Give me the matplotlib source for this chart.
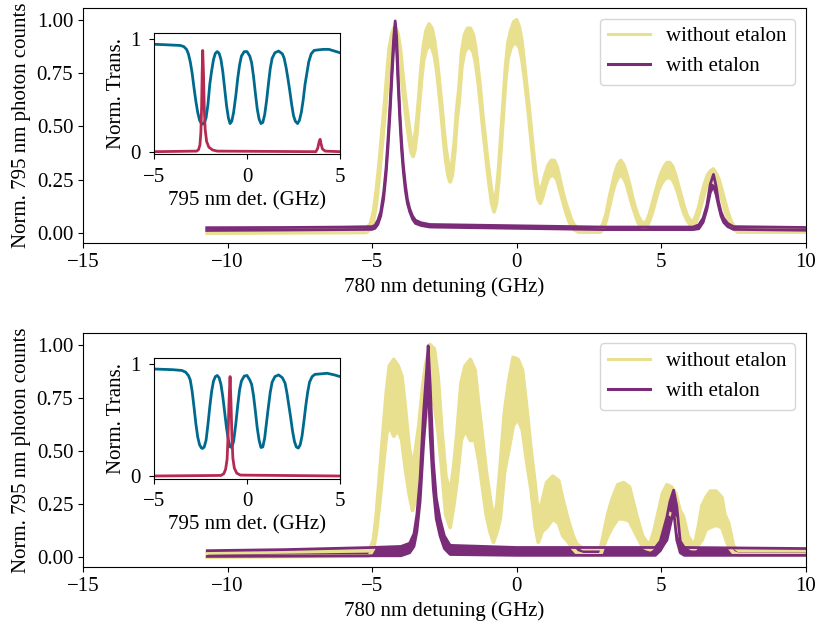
import matplotlib
matplotlib.use("Agg")
import matplotlib.pyplot as plt
from matplotlib.lines import Line2D

plt.rcParams['font.family'] = ['Liberation Serif', 'DejaVu Serif']
plt.rcParams['font.size'] = 15

# ---------------- data ----------------
# Top panel, without etalon: x, lower envelope, upper envelope
top_wo_x = [-10.7, -5.2, -5.05, -4.95, -4.85, -4.75, -4.65, -4.55, -4.47, -4.4, -4.32, -4.25, -4.17,
            -4.1, -4.02, -3.95, -3.87, -3.8, -3.72, -3.65, -3.58, -3.52, -3.45, -3.38, -3.3, -3.22,
            -3.13, -3.03, -2.93, -2.84, -2.76, -2.68, -2.6, -2.52, -2.45, -2.37, -2.3, -2.23, -2.15,
            -2.07, -1.99, -1.9, -1.8, -1.7, -1.6, -1.5, -1.42, -1.34, -1.26, -1.18, -1.1, -1.02,
            -0.94, -0.86, -0.78, -0.7, -0.62, -0.54, -0.46, -0.38, -0.3, -0.2, -0.1, 0.0, 0.1, 0.18,
            0.26, 0.34, 0.42, 0.5, 0.58, 0.66, 0.74, 0.82, 0.9, 1.0, 1.1, 1.2, 1.3, 1.4, 1.5, 1.6,
            1.7, 1.8, 1.9, 2.0, 2.15, 2.9, 3.0, 3.1, 3.2, 3.3, 3.4, 3.5, 3.6, 3.7, 3.8, 3.9, 4.0,
            4.1, 4.2, 4.3, 4.4, 4.5, 4.6, 4.7, 4.8, 4.9, 5.0, 5.1, 5.2, 5.3, 5.4, 5.5, 5.6, 5.7,
            5.8, 5.9, 6.0, 6.1, 6.2, 6.3, 6.4, 6.5, 6.6, 6.7, 6.8, 6.9, 7.0, 7.1, 7.2, 7.3, 7.4,
            7.5, 7.65, 10.0]
top_wo_lo = [0.0, 0.003, 0.02, 0.06, 0.14, 0.27, 0.42, 0.57, 0.7, 0.79, 0.85, 0.87, 0.87,
             0.84, 0.78, 0.69, 0.6, 0.52, 0.44, 0.38, 0.36, 0.39, 0.47, 0.58, 0.71, 0.81,
             0.86, 0.88, 0.87, 0.83, 0.76, 0.66, 0.55, 0.43, 0.34, 0.27, 0.24, 0.27, 0.37,
             0.52, 0.62, 0.78, 0.85, 0.87, 0.87, 0.85, 0.8, 0.72, 0.62, 0.51, 0.41, 0.31,
             0.22, 0.14, 0.1, 0.14, 0.25, 0.4, 0.56, 0.72, 0.82, 0.87, 0.89, 0.89, 0.87, 0.82,
             0.74, 0.65, 0.55, 0.44, 0.33, 0.23, 0.16, 0.14, 0.17, 0.22, 0.26, 0.27, 0.27, 0.25, 0.2, 0.15,
             0.1, 0.06, 0.03, 0.015, 0.005, 0.005, 0.02, 0.06, 0.12, 0.18, 0.23, 0.26, 0.27, 0.26, 0.23, 0.18, 0.13,
             0.09, 0.05, 0.03, 0.025, 0.03, 0.06, 0.1, 0.15, 0.2, 0.23, 0.25, 0.26, 0.26, 0.25, 0.22, 0.18, 0.13,
             0.09, 0.06, 0.04, 0.03, 0.05, 0.09, 0.14, 0.19, 0.23, 0.24, 0.24, 0.23, 0.2, 0.16, 0.11, 0.07, 0.04,
             0.02, 0.005, 0.005]
top_wo_hi = [0.012, 0.018, 0.045, 0.1, 0.2, 0.33, 0.48, 0.63, 0.77, 0.87, 0.93, 0.96, 0.96,
             0.93, 0.86, 0.76, 0.66, 0.58, 0.5, 0.44, 0.42, 0.45, 0.53, 0.64, 0.78, 0.88,
             0.95, 0.98, 0.96, 0.9, 0.82, 0.72, 0.61, 0.49, 0.4, 0.33, 0.3, 0.33, 0.43,
             0.58, 0.68, 0.85, 0.93, 0.96, 0.96, 0.93, 0.87, 0.78, 0.68, 0.56, 0.46, 0.36,
             0.27, 0.19, 0.15, 0.19, 0.3, 0.46, 0.62, 0.78, 0.89, 0.95, 0.99, 1.0, 0.96, 0.9,
             0.8, 0.7, 0.6, 0.49, 0.38, 0.28, 0.21, 0.2, 0.23, 0.28, 0.32, 0.34, 0.34, 0.31, 0.25, 0.19,
             0.14, 0.1, 0.06, 0.035, 0.02, 0.02, 0.045, 0.09, 0.16, 0.22, 0.28, 0.32, 0.34, 0.32, 0.28, 0.23, 0.17,
             0.12, 0.08, 0.055, 0.045, 0.055, 0.09, 0.14, 0.19, 0.24, 0.28, 0.31, 0.33, 0.33, 0.31, 0.27, 0.22, 0.17,
             0.12, 0.08, 0.06, 0.05, 0.08, 0.12, 0.18, 0.23, 0.27, 0.29, 0.3, 0.28, 0.25, 0.2, 0.15, 0.1, 0.06,
             0.035, 0.018, 0.015]

# Top panel, with etalon
top_w_x = [-10.72, -8.0, -6.0, -5.0, -4.9, -4.8, -4.7, -4.6, -4.52, -4.45, -4.38, -4.31, -4.25,
           -4.2, -4.15, -4.1, -4.04, -3.98, -3.92, -3.85, -3.78, -3.7, -3.6, -3.5, -3.3, -3.0,
           0.0, 3.0, 6.1, 6.3, 6.45, 6.58, 6.7, 6.81, 6.9, 6.98, 7.07, 7.16, 7.3, 7.5, 10.0]
top_w_lo = [0.012, 0.014, 0.016, 0.017, 0.022, 0.04, 0.08, 0.16, 0.27, 0.4, 0.56, 0.74, 0.88,
            0.97, 0.86, 0.7, 0.53, 0.39, 0.29, 0.2, 0.14, 0.1, 0.065, 0.045, 0.035, 0.028,
            0.022, 0.016, 0.016, 0.02, 0.05, 0.11, 0.19, 0.22, 0.18, 0.13, 0.08, 0.05, 0.03, 0.017, 0.013]
top_w_hi = [0.025, 0.026, 0.028, 0.03, 0.036, 0.06, 0.1, 0.19, 0.3, 0.44, 0.6, 0.78, 0.92,
            0.995, 0.92, 0.74, 0.57, 0.43, 0.32, 0.23, 0.16, 0.115, 0.08, 0.06, 0.048, 0.04,
            0.034, 0.028, 0.028, 0.038, 0.07, 0.13, 0.23, 0.275, 0.22, 0.15, 0.1, 0.07, 0.045, 0.03, 0.026]

# Bottom panel, without etalon
bot_wo_x = [-10.7, -5.1, -4.95, -4.85, -4.72, -4.6, -4.5, -4.4, -4.25, -4.1, -3.97, -3.85, -3.72,
            -3.6, -3.5, -3.38, -3.25, -3.15, -3.0, -2.85, -2.72, -2.59, -2.45, -2.3, -2.18, -2.07,
            -1.92, -1.78, -1.6, -1.44, -1.3, -1.18, -1.05, -0.92, -0.8, -0.68, -0.57, -0.42, -0.28,
            -0.12, 0.05, 0.2, 0.35, 0.5, 0.64, 0.75, 0.88, 1.04, 1.25, 1.45, 1.6, 1.79, 1.95, 2.08,
            2.3, 2.9, 3.0, 3.15, 3.3, 3.5, 3.7, 3.9, 4.05, 4.16, 4.35, 4.5, 4.62, 4.75, 4.9, 5.05,
            5.2, 5.35, 5.5, 5.65, 5.77, 5.92, 6.06, 6.18, 6.3, 6.41, 6.55, 6.7, 6.9, 7.1, 7.2, 7.33,
            7.5, 7.7, 10.0]
bot_wo_lo = [0.0, 0.005, 0.04, 0.12, 0.28, 0.45, 0.58, 0.62, 0.57, 0.6, 0.55, 0.42, 0.3,
             0.22, 0.27, 0.33, 0.55, 0.65, 0.73, 0.72, 0.6, 0.42, 0.2, 0.14, 0.24, 0.35,
             0.55, 0.6, 0.55, 0.55, 0.45, 0.33, 0.2, 0.12, 0.07, 0.12, 0.18, 0.4, 0.5,
             0.62, 0.65, 0.6, 0.45, 0.32, 0.15, 0.07, 0.12, 0.14, 0.18, 0.16, 0.1, 0.07, 0.04, 0.02,
             0.01, 0.01, 0.05, 0.1, 0.14, 0.18, 0.18, 0.17, 0.13, 0.1, 0.05, 0.04, 0.035, 0.05, 0.08, 0.15,
             0.21, 0.2, 0.18, 0.1, 0.065, 0.05, 0.04, 0.04, 0.06, 0.08, 0.13, 0.14, 0.15, 0.14, 0.1, 0.05,
             0.02, 0.01, 0.01]
bot_wo_hi = [0.02, 0.03, 0.08, 0.2, 0.42, 0.62, 0.78, 0.9, 0.93, 0.9, 0.85, 0.7, 0.52,
             0.42, 0.5, 0.62, 0.8, 0.9, 1.0, 0.98, 0.85, 0.6, 0.38, 0.3, 0.42, 0.57,
             0.82, 0.9, 0.93, 0.88, 0.7, 0.56, 0.4, 0.28, 0.17, 0.25, 0.42, 0.68, 0.82,
             0.94, 0.93, 0.88, 0.7, 0.5, 0.34, 0.2, 0.26, 0.35, 0.38, 0.36, 0.27, 0.17, 0.1, 0.06,
             0.04, 0.04, 0.1, 0.2, 0.27, 0.34, 0.35, 0.33, 0.25, 0.19, 0.1, 0.07, 0.065, 0.12, 0.21, 0.3,
             0.34, 0.33, 0.3, 0.22, 0.19, 0.1, 0.07, 0.07, 0.15, 0.24, 0.28, 0.31, 0.31, 0.28, 0.2, 0.16,
             0.05, 0.03, 0.03]

# Bottom panel, with etalon
bot_w_x = [-10.7, -8.0, -5.0, -4.0, -3.7, -3.55, -3.45, -3.34, -3.22, -3.11, -3.06, -2.99, -2.88,
           -2.78, -2.65, -2.5, -2.3, 0.0, 4.8, 4.97, 5.1, 5.2, 5.3, 5.43, 5.54, 5.66, 5.8, 10.0]
bot_w_lo = [0.003, 0.004, 0.006, 0.006, 0.02, 0.05, 0.12, 0.26, 0.53, 0.73, 0.85, 0.57, 0.32,
            0.18, 0.1, 0.04, 0.012, 0.008, 0.008, 0.03, 0.06, 0.08, 0.14, 0.22, 0.08, 0.02, 0.008, 0.008]
bot_w_hi = [0.03, 0.035, 0.045, 0.05, 0.065, 0.11, 0.2, 0.37, 0.68, 0.89, 0.995, 0.81, 0.45,
            0.28, 0.18, 0.1, 0.055, 0.045, 0.045, 0.075, 0.14, 0.19, 0.26, 0.315, 0.24, 0.075, 0.045, 0.04]

# Insets: 795 nm transmission (blue) and etalon transmission (red)
in_top_blue_x = [-5.0, -4.5, -4.0, -3.6, -3.4, -3.25, -3.15, -3.05, -2.95, -2.85, -2.75, -2.65,
                 -2.55, -2.45, -2.38, -2.3, -2.2, -2.1, -2.0, -1.9, -1.8, -1.7, -1.6, -1.5, -1.4,
                 -1.3, -1.2, -1.1, -1.0, -0.91, -0.82, -0.72, -0.6, -0.5, -0.4, -0.3, -0.15, 0.0,
                 0.15, 0.25, 0.35, 0.45, 0.55, 0.65, 0.75, 0.85, 0.95, 1.05, 1.15, 1.25, 1.35, 1.5,
                 1.7, 1.9, 2.0, 2.1, 2.2, 2.3, 2.4, 2.5, 2.6, 2.72, 2.82, 2.92, 3.02, 3.12, 3.22,
                 3.32, 3.45, 3.6, 3.8, 4.1, 4.4, 4.7, 5.0]
in_top_blue_y = [0.955, 0.952, 0.948, 0.945, 0.935, 0.91, 0.87, 0.8, 0.7, 0.57, 0.45, 0.35,
                 0.28, 0.25, 0.245, 0.255, 0.3, 0.42, 0.6, 0.72, 0.82, 0.875, 0.89, 0.875, 0.82,
                 0.71, 0.56, 0.41, 0.3, 0.25, 0.27, 0.35, 0.5, 0.65, 0.77, 0.85, 0.89, 0.89,
                 0.85, 0.79, 0.67, 0.52, 0.38, 0.29, 0.25, 0.26, 0.33, 0.45, 0.6, 0.74, 0.83, 0.88,
                 0.895, 0.87, 0.83, 0.75, 0.65, 0.54, 0.42, 0.32, 0.27, 0.25, 0.28, 0.35, 0.46, 0.6, 0.7,
                 0.8, 0.87, 0.9, 0.905, 0.91, 0.91, 0.895, 0.88]
in_top_red_x = [-5.0, -2.7, -2.6, -2.53, -2.48, -2.44, -2.41, -2.38, -2.34, -2.3, -2.25, -2.17,
                -2.05, -1.85, -1.6, 3.7, 3.8, 3.88, 3.93, 3.98, 4.05, 4.2, 5.0]
in_top_red_y = [0.0, 0.005, 0.02, 0.06, 0.17, 0.4, 0.7, 0.9, 0.7, 0.4, 0.2, 0.09,
                0.04, 0.015, 0.005, 0.0, 0.03, 0.09, 0.11, 0.07, 0.025, 0.005, 0.0]

in_bot_blue_x = [-5.0, -4.0, -3.5, -3.3, -3.15, -3.05, -2.95, -2.85, -2.75, -2.65, -2.55, -2.45,
                 -2.38, -2.3, -2.2, -2.1, -2.0, -1.9, -1.8, -1.7, -1.6, -1.5, -1.4, -1.3, -1.2,
                 -1.1, -1.0, -0.9, -0.82, -0.72, -0.6, -0.5, -0.4, -0.3, -0.15, 0.0, 0.15, 0.25,
                 0.35, 0.45, 0.55, 0.65, 0.75, 0.85, 0.95, 1.05, 1.15, 1.25, 1.35, 1.5, 1.7, 1.9,
                 2.05, 2.15, 2.25, 2.35, 2.45, 2.55, 2.65, 2.76, 2.86, 2.96, 3.06, 3.16, 3.26, 3.36,
                 3.5, 3.65, 4.0, 4.3, 4.7, 5.0]
in_bot_blue_y = [0.958, 0.952, 0.945, 0.93, 0.9, 0.86, 0.76, 0.62, 0.47, 0.35, 0.28, 0.25,
                 0.247, 0.26, 0.32, 0.46, 0.62, 0.76, 0.85, 0.89, 0.9, 0.88, 0.82, 0.71, 0.57,
                 0.43, 0.32, 0.26, 0.255, 0.31, 0.47, 0.63, 0.77, 0.85, 0.895, 0.9, 0.86, 0.82,
                 0.72, 0.58, 0.43, 0.32, 0.255, 0.26, 0.34, 0.48, 0.62, 0.75, 0.84, 0.89, 0.905, 0.88,
                 0.83, 0.74, 0.63, 0.52, 0.4, 0.31, 0.26, 0.25, 0.28, 0.36, 0.49, 0.63, 0.75, 0.84,
                 0.89, 0.91, 0.915, 0.92, 0.905, 0.89]
in_bot_red_x = [-5.0, -1.4, -1.25, -1.15, -1.07, -1.02, -0.97, -0.91, -0.86, -0.81, -0.76, -0.68,
                -0.55, -0.35, 5.0]
in_bot_red_y = [0.0, 0.005, 0.02, 0.06, 0.15, 0.35, 0.65, 0.89, 0.65, 0.35, 0.16, 0.07,
                0.025, 0.008, 0.0]

main_xticks = [-15, -10, -5, 0, 5, 10]
main_yticks = [0.0, 0.25, 0.5, 0.75, 1.0]
inset_xticks = [-5, 0, 5]
inset_yticks = [0, 1]

# ---------------- styling ----------------
c_wo = '#e8e08e'
c_w = '#7b2c79'
c_blue = '#006a8e'
c_red = '#b42a51'

fig = plt.figure(figsize=(8.16, 6.28), dpi=100)
ax_top = fig.add_axes([0.1017, 0.613, 0.8857, 0.374])
ax_bot = fig.add_axes([0.1017, 0.0971, 0.8857, 0.3726])
in_top = fig.add_axes([0.1887, 0.754, 0.228, 0.193])
in_bot = fig.add_axes([0.1887, 0.2376, 0.228, 0.1917])


def band(ax, x, lo, hi, color, lw):
    ax.fill_between(x, lo, hi, color=color, lw=0)
    ax.plot(x, lo, color=color, lw=lw, solid_joinstyle='round')
    ax.plot(x, hi, color=color, lw=lw, solid_joinstyle='round')


for ax, (wx, wlo, whi), (ex, elo, ehi) in [
        (ax_top, (top_wo_x, top_wo_lo, top_wo_hi), (top_w_x, top_w_lo, top_w_hi)),
        (ax_bot, (bot_wo_x, bot_wo_lo, bot_wo_hi), (bot_w_x, bot_w_lo, bot_w_hi))]:
    band(ax, wx, wlo, whi, c_wo, 2.8)
    band(ax, ex, elo, ehi, c_w, 2.0)
    ax.set_xlim(-15, 10)
    ax.set_ylim(-0.047, 1.055)
    ax.set_xticks(main_xticks)
    ax.set_xticklabels([f"\u2212{abs(t)}" if t < 0 else f"{t}" for t in main_xticks])
    ax.set_yticks(main_yticks)
    ax.set_yticklabels([f"{t:.2f}" for t in main_yticks])
    ax.set_xlabel("780 nm detuning (GHz)")
    ax.set_ylabel("Norm. 795 nm photon counts")
    handles = [Line2D([0], [0], color=c_wo, lw=2.2), Line2D([0], [0], color=c_w, lw=2.2)]
    ax.legend(handles, ["without etalon", "with etalon"], loc='upper right')

for ax, bx, by, rx, ry in [
        (in_top, in_top_blue_x, in_top_blue_y, in_top_red_x, in_top_red_y),
        (in_bot, in_bot_blue_x, in_bot_blue_y, in_bot_red_x, in_bot_red_y)]:
    ax.plot(bx, by, color=c_blue, lw=2.0)
    ax.plot(rx, ry, color=c_red, lw=2.0)
    ax.set_xlim(-5, 5)
    ax.set_ylim(-0.025, 1.053)
    ax.set_xticks(inset_xticks)
    ax.set_xticklabels([f"\u2212{abs(t)}" if t < 0 else f"{t}" for t in inset_xticks])
    ax.set_yticks(inset_yticks)
    ax.tick_params(axis='both', pad=6)
    ax.set_xlabel("795 nm det. (GHz)", labelpad=3)
    ax.set_ylabel("Norm. Trans.", labelpad=3)

fig.savefig("out.png", dpi=100)
